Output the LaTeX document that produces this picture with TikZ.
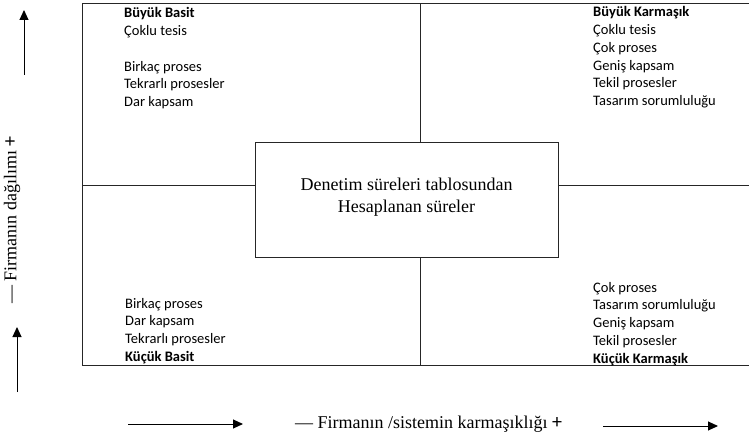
\documentclass[tikz,border=0pt]{standalone}
\usepackage{fontspec}
\setmainfont{Liberation Serif}
\newfontfamily\calfont{Carlito}
\usetikzlibrary{arrows.meta}
\begin{document}
\begin{tikzpicture}[x=1pt,y=-1pt,
  frame/.style={line width=1pt,draw=black!85},
  quad/.style={inner sep=0pt,align=left,anchor=base west,
    font=\calfont\fontsize{14.5pt}{17.75pt}\selectfont},
  serif/.style={inner sep=0pt,font=\fontsize{18pt}{22pt}\selectfont},
  axarrow/.style={line width=1pt,-{Triangle[length=10pt,width=9pt]}}]
\useasboundingbox (0,0) rectangle (749,435);
% corners of the frame
\coordinate (TL) at (82,4);
\coordinate (TR) at (749,4);
\coordinate (BL) at (82,365);
\coordinate (BR) at (749,365);
\coordinate (vt) at (420,4);
\coordinate (vb) at (420,365);
\coordinate (hl) at (82,186);
\coordinate (hr) at (749,186);
% centre box
\node[draw=black!85,line width=1pt,minimum width=303pt,minimum height=115pt,inner sep=0pt] (box) at (406.5,200.5) {};
\node[serif,align=center,anchor=base] (boxtext) at (406.5,213) {Denetim süreleri tablosundan\\Hesaplanan süreler};
% frame
\draw[frame] (TR) -- (TL) -- (BL) -- (BR);
\draw[frame] (vt) -- (vt |- box.north);
\draw[frame] (vb) -- (vb |- box.south);
\draw[frame] (hl) -- (box.west |- hl);
\draw[frame] (hr) -- (box.east |- hr);
% quadrant texts (base anchor = baseline of last line)
\node[quad] (q1) at (124,106.75) {\textbf{Büyük Basit}\\Çoklu tesis\\[17.75pt]Birkaç proses\\Tekrarlı prosesler\\Dar kapsam};
\node[quad] (q2) at (593,105.75) {\textbf{Büyük Karmaşık}\\Çoklu tesis\\Çok proses\\Geniş kapsam\\Tekil prosesler\\Tasarım sorumluluğu};
\node[quad] (q3) at (125,361.25) {Birkaç proses\\Dar kapsam\\Tekrarlı prosesler\\\textbf{Küçük Basit}};
\node[quad] (q4) at (593,363) {Çok proses\\Tasarım sorumluluğu\\Geniş kapsam\\Tekil prosesler\\\textbf{Küçük Karmaşık}};
% vertical axis
\node[serif,rotate=90,anchor=center] (ylab) at (12,220) {— Firmanın dağılımı {\calfont\fontsize{20pt}{22pt}\selectfont +}};
\coordinate (ya1) at (24,75);
\coordinate (yb1) at (24,10);
\coordinate (ya2) at (17,392);
\coordinate (yb2) at (17,327);
\draw[axarrow] (ya1) -- (yb1);
\draw[axarrow] (ya2) -- (yb2);
% horizontal axis
\node[serif,anchor=base] (xlab) at (428.5,428) {— Firmanın /sistemin karmaşıklığı {\calfont\fontsize{20pt}{22pt}\selectfont +}};
\coordinate (xa1) at (128,424);
\coordinate (xb1) at (243,424);
\coordinate (xa2) at (603,426);
\coordinate (xb2) at (718,426);
\draw[axarrow] (xa1) -- (xb1);
\draw[axarrow] (xa2) -- (xb2);
\end{tikzpicture}
\end{document}
